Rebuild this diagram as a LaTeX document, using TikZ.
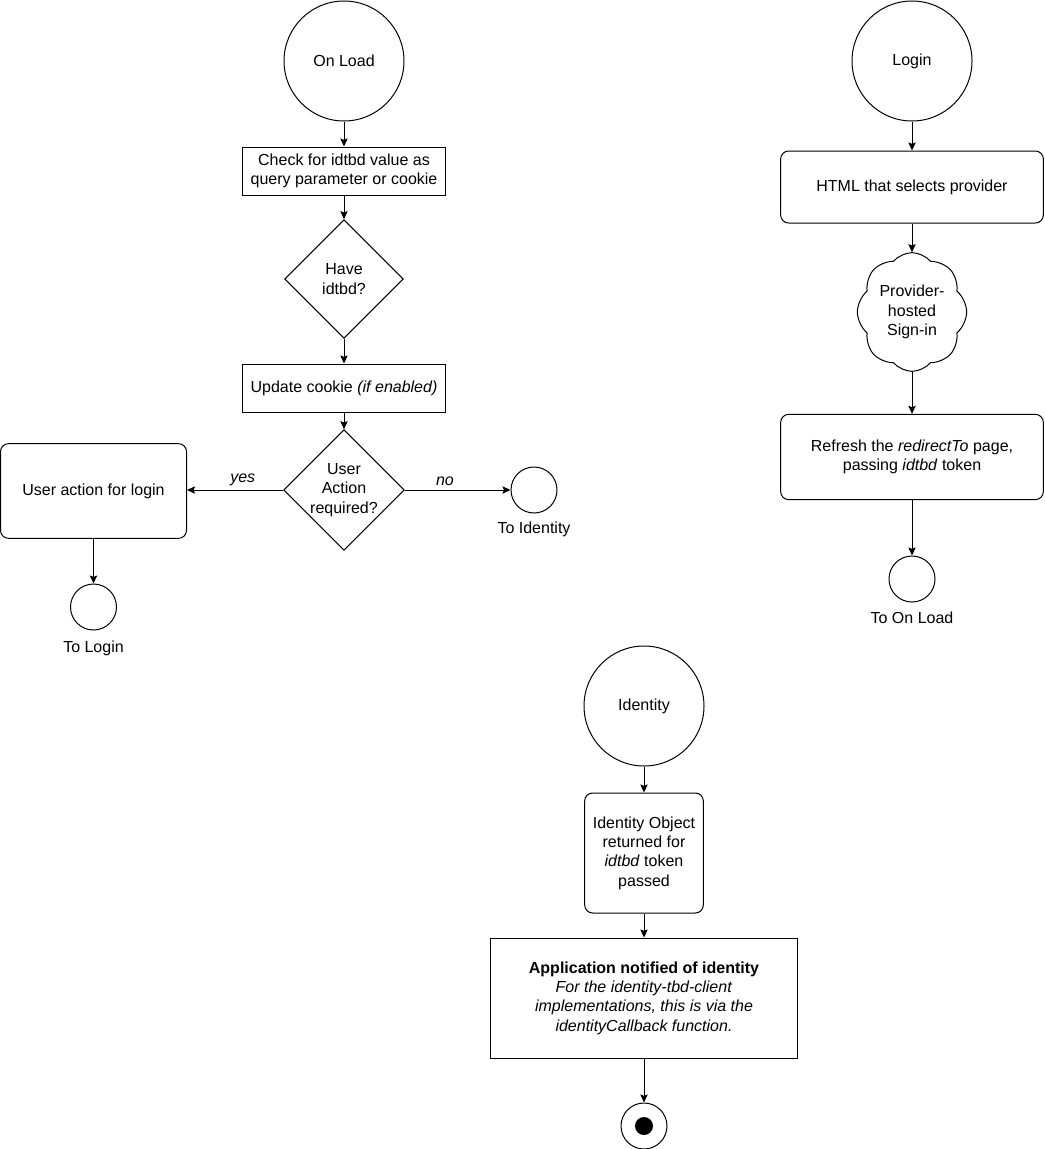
\documentclass[tikz,border=0pt]{standalone}
\usepackage{fontspec}
\setmainfont{Liberation Sans}
\usetikzlibrary{arrows.meta,positioning,shapes.geometric,shapes.symbols}
\tikzset{
  >={Stealth[length=6pt,width=5.5pt,inset=1pt]},
  txt/.style={font=\fontsize{12}{14.5}\selectfont,align=center},
  start/.style={circle,draw,line width=0.75pt,minimum size=90pt,inner sep=0pt,txt},
  conn/.style={circle,draw,line width=0.75pt,minimum size=34.5pt,inner sep=0pt},
  action/.style={rectangle,draw,line width=0.75pt,inner sep=2pt,txt},
  activity/.style={action,rounded corners=6pt},
  decision/.style={diamond,draw,line width=0.75pt,aspect=1,minimum width=89pt,
    minimum height=89pt,inner sep=0pt,txt},
  provider/.style={cloud,draw,line width=0.75pt,cloud puffs=8,cloud puff arc=100,
    minimum width=82pt,minimum height=89pt,inner sep=0pt,txt},
  caption/.style={inner sep=0pt,txt},
  answer/.style={inner sep=0pt,font=\fontsize{12}{14}\selectfont\itshape},
  flow/.style={->,line width=0.75pt},
}

\begin{document}
\begin{tikzpicture}[x=0.75pt,y=-0.75pt]
  \useasboundingbox (0,0) rectangle (1045,1149);

  % on load
  \node[start] (onload) at (344,61) {On Load};
  \node[action,minimum width=152pt,minimum height=36pt] (check) at (344,171) {Check for idtbd value as\\query parameter or cookie};
  \node[decision] (have) at (344,279) {Have\\idtbd?};
  \node[action,minimum width=152pt,minimum height=36pt] (cookie) at (344,388) {Update cookie \textit{(if enabled)}};
  \node[decision] (useract) at (344,490) {User\\Action\\required?};
  \node[activity,minimum width=139.5pt,minimum height=71pt] (loginaction) at (93.5,491) {User action for login};
  \node[conn] (toid) at (534,490) {};
  \node[caption] (toidlbl) at (534,529) {To Identity};
  \node[conn] (tologin) at (93.5,607) {};
  \node[caption] (tologinlbl) at (93.5,648) {To Login};

  \draw[flow] (onload) -- (check);
  \draw[flow] (check) -- (have);
  \draw[flow] (have) -- (cookie);
  \draw[flow] (cookie) -- (useract);
  \draw[flow] (useract.west) -- node[answer,above=3pt,pos=0.42] {yes} (useract.west -| loginaction.east);
  \draw[flow] (useract.east) -- node[answer,above=3pt,pos=0.38] {no} (toid);
  \draw[flow] (loginaction) -- (tologin);

  % login
  \node[start] (login) at (912,61) {Login};
  \node[activity,minimum width=197pt,minimum height=54pt] (html) at (912,187) {HTML that selects provider};
  \node[provider] (signin) at (912,312) {Provider-\\hosted\\Sign-in};
  \node[activity,minimum width=197pt,minimum height=64pt] (refresh) at (912,457) {Refresh the \textit{redirectTo} page,\\passing \textit{idtbd} token};
  \node[conn] (toonload) at (912,579) {};
  \node[caption] (toonloadlbl) at (912,618) {To On Load};

  \draw[flow] (login) -- (html);
  \draw[flow] (html) -- (signin);
  \draw[flow] (signin) -- (refresh);
  \draw[flow] (refresh) -- (toonload);

  % identity
  \node[start] (identity) at (644,706) {Identity};
  \node[activity,minimum width=89pt,minimum height=90pt] (idobj) at (644,853) {Identity Object\\returned for\\\textit{idtbd} token\\passed};
  \node[action,minimum width=230pt,minimum height=90pt] (notify) at (644,998) {\textbf{Application notified of identity}\\\textit{For the identity-tbd-client}\\\textit{implementations, this is via the}\\\textit{identityCallback function.}};
  \node[conn] (final) at (644,1126) {};
  \node[circle,fill,minimum size=13.5pt,inner sep=0pt] (finaldot) at (final) {};

  \draw[flow] (identity) -- (idobj);
  \draw[flow] (idobj) -- (notify);
  \draw[flow] (notify) -- (final);
\end{tikzpicture}
\end{document}
